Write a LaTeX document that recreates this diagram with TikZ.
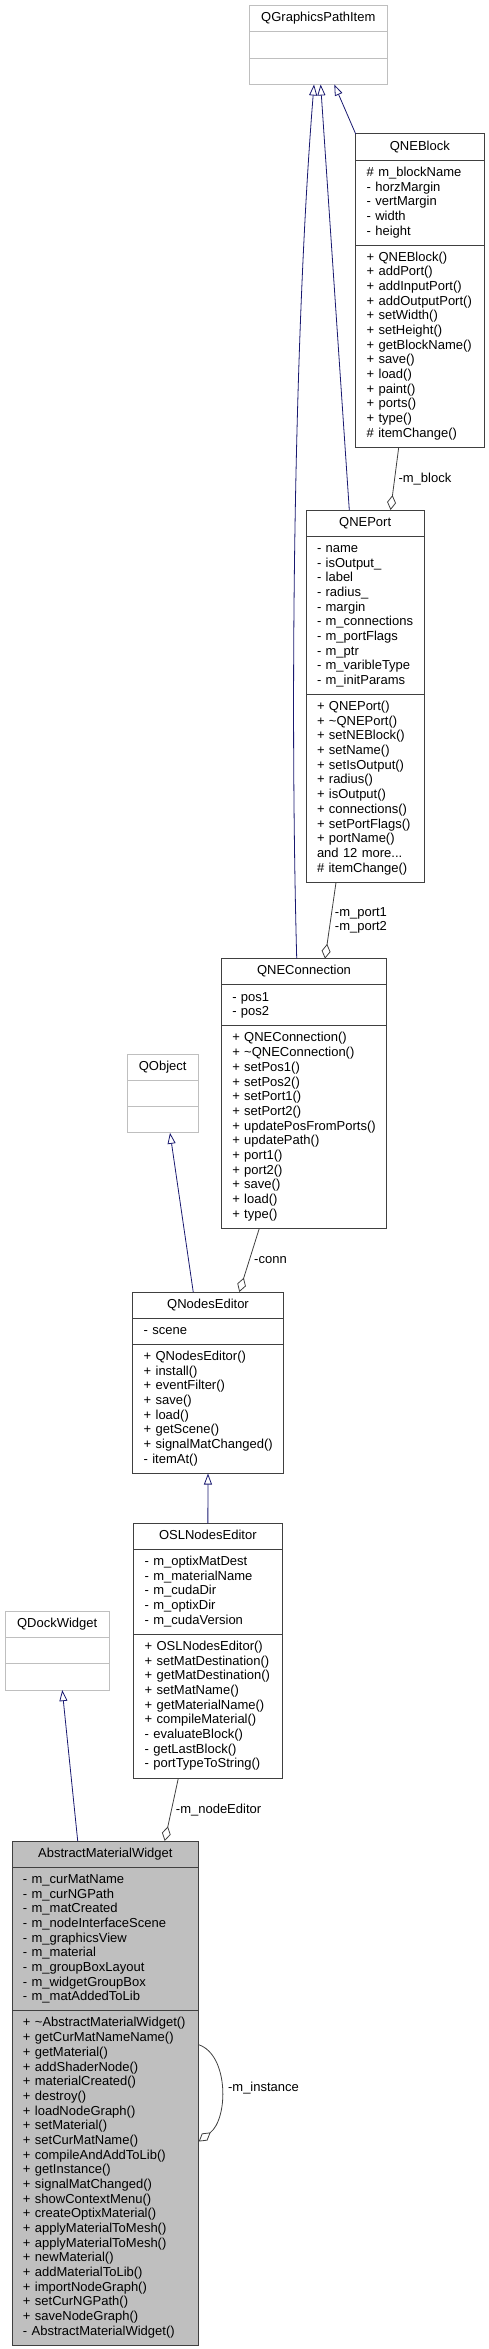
\documentclass[tikz,border=0pt]{standalone}
\usepackage{fontspec}
\setmainfont{Liberation Sans}
\usetikzlibrary{shapes.multipart,arrows.meta,calc}

\definecolor{edgeblue}{HTML}{191970}
\definecolor{boxgray}{HTML}{404040}
\definecolor{extgray}{HTML}{BFBFBF}

\hyphenpenalty=10000
\exhyphenpenalty=10000
\newcommand{\fld}[1]{\strut#1\strut}
\newcommand{\ttl}[1]{\makebox[\hsize][c]{\strut#1\strut}}

\tikzset{
  cls/.style={rectangle split, rectangle split parts=3, draw=boxgray, line width=1pt,
    inner xsep=11pt, inner ysep=5.3pt, outer sep=0pt, anchor=north west, align=left,
    font=\fontsize{13}{14.67}\selectfont},
  extcls/.style={cls, draw=extgray},
  curcls/.style={cls, fill=extgray},
  inh/.style={draw=edgeblue, line width=0.8pt, -{Triangle[open,length=11pt,width=8pt]}},
  agg/.style={draw=boxgray, line width=0.8pt, -{Diamond[open,length=15pt,width=9pt]}},
  lbl/.style={font=\fontsize{13}{14}\selectfont, inner sep=2pt, anchor=west, align=center},
}

\begin{document}
\begin{tikzpicture}[x=1pt,y=-1pt]
    \useasboundingbox (0,0) rectangle (489,2349);

    \node[extcls, text width=116pt] (gpi) at (249.3,5.7)
        {\ttl{QGraphicsPathItem}\nodepart{two}\strut\nodepart{three}\strut};
    \node[cls, text width=106.3pt] (block) at (355.7,134)
        {\ttl{QNEBlock}
         \nodepart{two}\fld{\#~m\_blockName\\-~horzMargin\\-~vertMargin\\-~width\\-~height}
         \nodepart{three}\fld{+~QNEBlock()\\+~addPort()\\+~addInputPort()\\+~addOutputPort()\\+~setWidth()\\+~setHeight()\\+~getBlockName()\\+~save()\\+~load()\\+~paint()\\+~ports()\\+~type()\\\#~itemChange()}};
    \node[cls, text width=96.3pt] (port) at (306,510)
        {\ttl{QNEPort}
         \nodepart{two}\fld{-~name\\-~isOutput\_\\-~label\\-~radius\_\\-~margin\\-~m\_connections\\-~m\_portFlags\\-~m\_ptr\\-~m\_varibleType\\-~m\_initParams}
         \nodepart{three}\fld{+~QNEPort()\\+~\textasciitilde QNEPort()\\+~setNEBlock()\\+~setName()\\+~setIsOutput()\\+~radius()\\+~isOutput()\\+~connections()\\+~setPortFlags()\\+~portName()\\and~12~more...\\\#~itemChange()}};
    \node[cls, text width=143.4pt] (conn) at (221.3,958.7)
        {\ttl{QNEConnection}
         \nodepart{two}\fld{-~pos1\\-~pos2}
         \nodepart{three}\fld{+~QNEConnection()\\+~\textasciitilde QNEConnection()\\+~setPos1()\\+~setPos2()\\+~setPort1()\\+~setPort2()\\+~updatePosFromPorts()\\+~updatePath()\\+~port1()\\+~port2()\\+~save()\\+~load()\\+~type()}};
    \node[extcls, text width=48.7pt] (qobj) at (127.3,1054)
        {\ttl{QObject}\nodepart{two}\strut\nodepart{three}\strut};
    \node[cls, text width=128.6pt] (ned) at (132.7,1292)
        {\ttl{QNodesEditor}
         \nodepart{two}\fld{-~scene}
         \nodepart{three}\fld{+~QNodesEditor()\\+~install()\\+~eventFilter()\\+~save()\\+~load()\\+~getScene()\\+~signalMatChanged()\\-~itemAt()}};
    \node[cls, text width=126.3pt] (osl) at (133.7,1523.3)
        {\ttl{OSLNodesEditor}
         \nodepart{two}\fld{-~m\_optixMatDest\\-~m\_materialName\\-~m\_cudaDir\\-~m\_optixDir\\-~m\_cudaVersion}
         \nodepart{three}\fld{+~OSLNodesEditor()\\+~setMatDestination()\\+~getMatDestination()\\+~setMatName()\\+~getMaterialName()\\+~compileMaterial()\\-~evaluateBlock()\\-~getLastBlock()\\-~portTypeToString()}};
    \node[extcls, text width=82.3pt] (dock) at (5,1611.3)
        {\ttl{QDockWidget}\nodepart{two}\strut\nodepart{three}\strut};
    \node[curcls, text width=164.7pt] (amw) at (12,1841)
        {\ttl{AbstractMaterialWidget}
         \nodepart{two}\fld{-~m\_curMatName\\-~m\_curNGPath\\-~m\_matCreated\\-~m\_nodeInterfaceScene\\-~m\_graphicsView\\-~m\_material\\-~m\_groupBoxLayout\\-~m\_widgetGroupBox\\-~m\_matAddedToLib}
         \nodepart{three}\fld{+~\textasciitilde AbstractMaterialWidget()\\+~getCurMatNameName()\\+~getMaterial()\\+~addShaderNode()\\+~materialCreated()\\+~destroy()\\+~loadNodeGraph()\\+~setMaterial()\\+~setCurMatName()\\+~compileAndAddToLib()\\+~getInstance()\\+~signalMatChanged()\\+~showContextMenu()\\+~createOptixMaterial()\\+~applyMaterialToMesh()\\+~applyMaterialToMesh()\\+~newMaterial()\\+~addMaterialToLib()\\+~importNodeGraph()\\+~setCurNGPath()\\+~saveNodeGraph()\\-~AbstractMaterialWidget()}};

    \draw[inh] (block.north west) -- ($(gpi.south west)!0.616!(gpi.south east)$);
    \draw[inh] ($(port.north west)!0.366!(port.north east)$) -- ($(gpi.south west)!0.517!(gpi.south east)$);
    \draw[inh] ($(conn.north west)!0.456!(conn.north east)$) .. controls +(-7,-259) and +(-20,248) .. ($(gpi.south west)!0.469!(gpi.south east)$);
    \draw[inh] ($(ned.north west)!0.402!(ned.north east)$) -- ($(qobj.south west)!0.604!(qobj.south east)$);
    \draw[inh] (osl.north) -- (ned.south);
    \draw[inh] ($(amw.north west)!0.352!(amw.north east)$) -- ($(dock.south west)!0.549!(dock.south east)$);

    \draw[agg] ($(block.south west)!0.335!(block.south east)$) -- node[lbl, xshift=1.5pt] {-m\_block} ($(port.north west)!0.715!(port.north east)$);
    \draw[agg] ($(port.south west)!0.254!(port.south east)$) -- node[lbl, xshift=2pt] {-m\_port1\\-m\_port2} ($(conn.north west)!0.627!(conn.north east)$);
    \draw[agg] ($(conn.south west)!0.23!(conn.south east)$) -- node[lbl, xshift=2.5pt] {-conn} ($(ned.north west)!0.708!(ned.north east)$);
    \draw[agg] ($(osl.south west)!0.301!(osl.south east)$) -- node[lbl, xshift=2pt] {-m\_nodeEditor} ($(amw.north west)!0.818!(amw.north east)$);
    \draw[agg] ($(amw.north east)!0.404!(amw.south east)$) .. controls +(30,10) and +(30,-23) .. node[lbl, xshift=4.5pt] {-m\_instance} ($(amw.north east)!0.596!(amw.south east)$);
\end{tikzpicture}
\end{document}
